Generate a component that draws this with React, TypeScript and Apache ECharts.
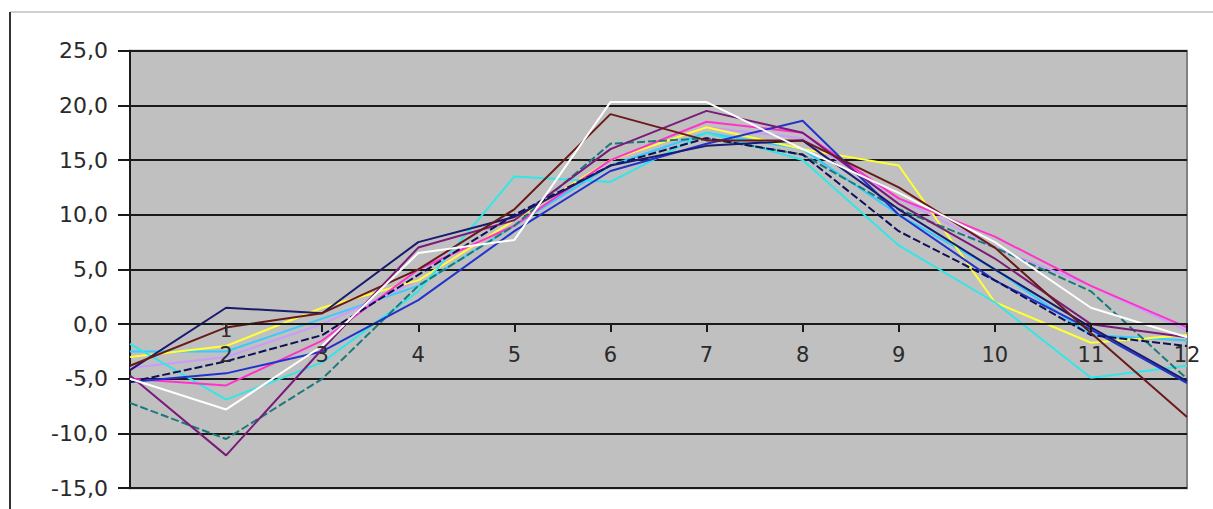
import React, { useEffect, useRef } from "react";
import * as echarts from "echarts";

const months = ["1", "2", "3", "4", "5", "6", "7", "8", "9", "10", "11", "12"];
const yTicks = { min: -15, max: 25, interval: 5 };

const sDarkRed = [-3.8, -0.3, 1.0, 5.0, 10.5, 19.2, 16.8, 16.8, 12.5, 7.0, -0.8, -8.5];
const sNavy = [-4.2, 1.5, 1.0, 7.5, 9.8, 14.5, 16.3, 16.8, 10.5, 5.0, -0.3, -5.2];
const sWhite = [-5.0, -7.8, -2.0, 6.5, 7.7, 20.3, 20.3, 16.0, 12.0, 7.5, 1.5, -1.2];
const sYellow = [-3.0, -2.0, 1.5, 4.0, 9.5, 15.0, 18.0, 16.0, 14.5, 2.0, -1.7, -1.0];
const sCyan = [-1.8, -6.9, -3.5, 3.0, 13.5, 13.0, 17.5, 15.0, 7.2, 2.0, -4.9, -3.8];
const sMagenta = [-5.0, -5.6, -1.5, 5.0, 9.0, 15.0, 18.5, 17.5, 11.5, 8.0, 3.5, -0.3];
const sPurple = [-4.7, -12.0, -2.3, 7.0, 9.5, 16.0, 19.5, 17.5, 11.0, 6.0, 0.0, -1.2];
const sTeal = [-7.2, -10.5, -5.0, 3.5, 9.0, 16.5, 17.0, 15.5, 10.5, 7.0, 3.0, -5.0];
const sBlue = [-5.3, -4.5, -2.5, 2.2, 8.5, 14.0, 16.5, 18.6, 10.0, 4.0, -0.5, -5.4];
const sNavyDash = [-5.3, -3.4, -1.0, 4.5, 10.0, 14.5, 17.0, 15.5, 8.5, 4.0, -1.0, -2.0];
const sSky = [-2.5, -2.5, 0.5, 3.5, 9.0, 14.5, 17.5, 16.0, 10.0, 5.0, -1.0, -1.5];
const sLavender = [-4.0, -3.0, 0.0, 4.0, 9.5, 15.0, 18.0, 17.0, 11.5, 7.0, 3.5, -0.6];

const seriesDefs = [
  { name: "s1", data: sSky, color: "#33ccff", type: "solid" },
  { name: "s2", data: sLavender, color: "#cc99ff", type: "solid" },
  { name: "s3", data: sYellow, color: "#ffff33", type: "solid" },
  { name: "s4", data: sCyan, color: "#33e6e6", type: "solid" },
  { name: "s5", data: sMagenta, color: "#ff33cc", type: "solid" },
  { name: "s6", data: sTeal, color: "#1a7a7a", type: "dashed" },
  { name: "s7", data: sBlue, color: "#2233cc", type: "solid" },
  { name: "s8", data: sPurple, color: "#7a1a7a", type: "solid" },
  { name: "s9", data: sNavyDash, color: "#10105a", type: "dashed" },
  { name: "s10", data: sNavy, color: "#1a1a6e", type: "solid" },
  { name: "s11", data: sDarkRed, color: "#6a1a1a", type: "solid" },
  { name: "s12", data: sWhite, color: "#ffffff", type: "solid" },
];

export default function App() {
  const ref = useRef<HTMLDivElement>(null);
  useEffect(() => {
    if (!ref.current) return;
    const chart = echarts.init(ref.current, undefined, { renderer: "svg" });
    chart.setOption({
      animation: false,
      backgroundColor: "#ffffff",
      grid: {
        left: 130,
        right: 26,
        top: 50.7,
        bottom: 20.8,
        show: true,
        backgroundColor: "#c0c0c0",
        borderColor: "#808080",
        borderWidth: 2,
      },
      xAxis: {
        type: "category",
        data: months,
        boundaryGap: false,
        offset: -164.1,
        z: 10,
        axisLine: { onZero: false, lineStyle: { color: "#1a1a1a", width: 2 } },
        axisTick: { show: true, length: 8, lineStyle: { color: "#1a1a1a", width: 2 } },
        axisLabel: {
          margin: 20,
          fontFamily: "DejaVu Sans",
          fontSize: 21,
          color: "#2a2a2a",
          formatter: (v: string, i: number) => (i === 0 ? "" : v),
        },
        splitLine: { show: false },
      },
      yAxis: {
        type: "value",
        min: yTicks.min,
        max: yTicks.max,
        interval: yTicks.interval,
        axisLine: { show: true, lineStyle: { color: "#1a1a1a", width: 2 } },
        axisTick: { show: true, length: 12, lineStyle: { color: "#1a1a1a", width: 2 } },
        axisLabel: {
          margin: 22,
          fontFamily: "DejaVu Sans",
          fontSize: 22,
          color: "#2a2a2a",
          formatter: (v: number) => v.toFixed(1).replace(".", ","),
        },
        splitLine: { show: true, lineStyle: { color: "#1a1a1a", width: 2 } },
      },
      graphic: [
        { type: "line", shape: { x1: 10, y1: 12, x2: 1213, y2: 12 }, style: { stroke: "#a0a0a0", lineWidth: 1 } },
        { type: "line", shape: { x1: 10, y1: 12, x2: 10, y2: 509 }, style: { stroke: "#333333", lineWidth: 2 } },
        {
          type: "text",
          x: 226,
          y: 320,
          style: { text: "1", font: "20px DejaVu Sans", fill: "#3a2a2a", align: "center" },
          z: 100,
        },
      ],
      series: seriesDefs.map((s) => ({
        name: s.name,
        type: "line",
        data: s.data,
        showSymbol: false,
        lineStyle: { color: s.color, width: 2, type: s.type === "dashed" ? [8, 3] : "solid" },
        itemStyle: { color: s.color },
      })),
    });
    return () => chart.dispose();
  }, []);
  return (
    <div
      ref={ref}
      style={{ position: "absolute", left: 0, top: 0, width: 1213, height: 509 }}
    />
  );
}
